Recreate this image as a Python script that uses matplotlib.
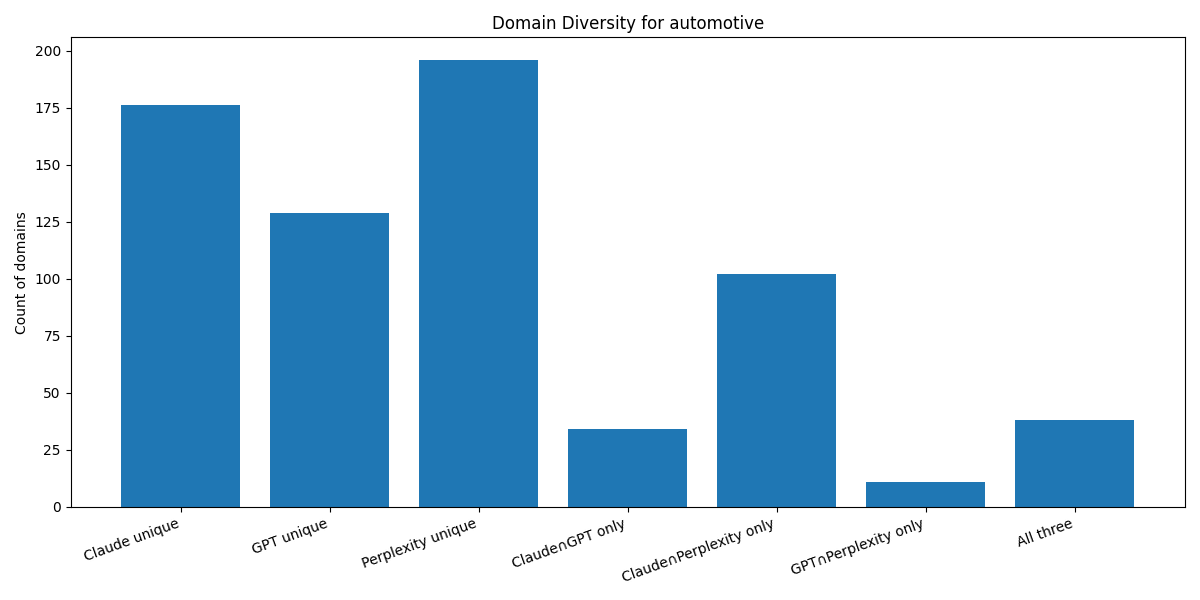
import matplotlib
matplotlib.use("Agg")
import matplotlib.pyplot as plt

categories = ["Claude unique", "GPT unique", "Perplexity unique",
              "Claude\u2229GPT only", "Claude\u2229Perplexity only",
              "GPT\u2229Perplexity only", "All three"]
counts = [176, 129, 196, 34, 102, 11, 38]

fig, ax = plt.subplots(figsize=(12, 6), dpi=100)
ax.bar(categories, counts, color="#1f77b4")
ax.set_title("Domain Diversity for automotive")
ax.set_ylabel("Count of domains")
plt.xticks(rotation=20, ha="right")

plt.tight_layout()
plt.savefig("out.png")
